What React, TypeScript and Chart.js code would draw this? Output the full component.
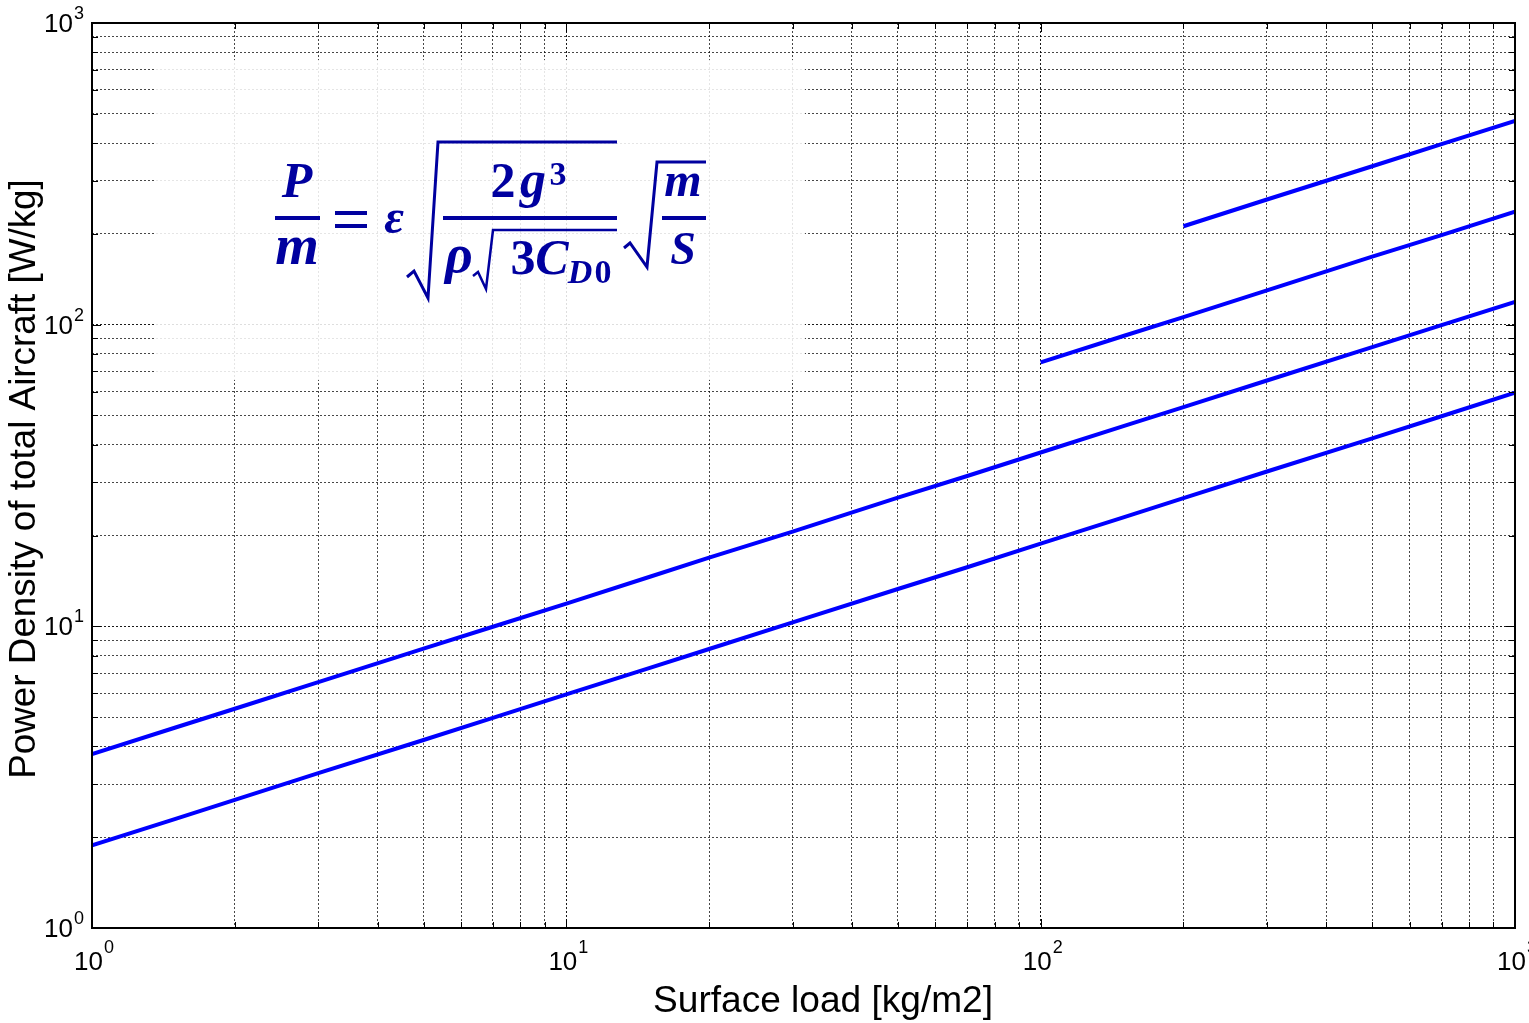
import React, { useEffect, useRef } from 'react';
import { Chart, registerables } from 'chart.js';

Chart.register(...registerables);

// ---- data ----
const X_FULL = [1, 1.5, 2, 3, 5, 7, 10, 15, 20, 30, 50, 70, 100, 150, 200, 300, 500, 700, 1000];
const LOW_Y = [1.88, 2.3, 2.66, 3.26, 4.2, 4.97, 5.95, 7.28, 8.41, 10.3, 13.3, 15.7, 18.8, 23.0, 26.6, 32.6, 42.0, 49.7, 59.5];
const MID_Y = [3.77, 4.62, 5.33, 6.53, 8.43, 9.97, 11.9, 14.6, 16.9, 20.6, 26.7, 31.5, 37.7, 46.2, 53.3, 65.3, 84.3, 99.7, 119];
const X_FROM_100 = [100, 150, 200, 300, 500, 700, 1000];
const UPPER_Y = [75, 91.9, 106, 130, 168, 198, 237];
const X_FROM_200 = [200, 300, 500, 700, 1000];
const TOP_Y = [212, 260, 335, 397, 474];

const DECADES = [1, 10, 100, 1000];
const DECADE_EXPONENTS = ['0', '1', '2', '3'];
const X_TITLE = 'Surface load [kg/m2]';
const Y_TITLE = 'Power Density of total Aircraft [W/kg]';

const TICK_VALUES: number[] = [];
for (let i = 0; i < DECADES.length - 1; i++) {
  for (let m = 1; m <= 9; m++) TICK_VALUES.push(m * DECADES[i]);
}
TICK_VALUES.push(DECADES[DECADES.length - 1]);

const toPoints = (xs: number[], ys: number[]) => xs.map((x, i) => ({ x, y: ys[i] }));

const LINE_COLOR = '#0000ff';
const EQ_COLOR = '#00009f';
const SANS = '"Liberation Sans", Arial, sans-serif';
const SERIF = '"Liberation Serif", "Times New Roman", serif';

function txt(ctx: CanvasRenderingContext2D, t: string, x: number, y: number, font: string, align: CanvasTextAlign = 'center') {
  ctx.font = font;
  ctx.textAlign = align;
  ctx.textBaseline = 'alphabetic';
  ctx.fillText(t, x, y);
}

function fitFont(ctx: CanvasRenderingContext2D, t: string, width: number) {
  ctx.font = `100px ${SANS}`;
  const w = ctx.measureText(t).width;
  return `${(100 * width) / w}px ${SANS}`;
}

function poly(ctx: CanvasRenderingContext2D, pts: number[][], w: number) {
  ctx.lineWidth = w;
  ctx.beginPath();
  pts.forEach((p, i) => (i === 0 ? ctx.moveTo(p[0], p[1]) : ctx.lineTo(p[0], p[1])));
  ctx.stroke();
}

function drawEquation(ctx: CanvasRenderingContext2D) {
  ctx.save();
  ctx.fillStyle = EQ_COLOR;
  ctx.strokeStyle = EQ_COLOR;
  ctx.lineJoin = 'miter';
  ctx.lineCap = 'butt';
  const L = (s: number) => `italic bold ${s}px ${SERIF}`;
  const D = (s: number) => `bold ${s}px ${SERIF}`;
  // P / m
  txt(ctx, 'P', 297, 197, L(50));
  ctx.fillRect(275, 216, 45, 4);
  txt(ctx, 'm', 297, 264, L(56));
  // =
  ctx.fillRect(335, 211, 32, 4);
  ctx.fillRect(335, 224, 32, 4);
  // epsilon
  txt(ctx, 'ε', 394, 233, L(48));
  // big radical
  poly(ctx, [[407, 277], [414, 271], [428, 298], [438, 142], [617, 142]], 3);
  // 2g^3
  txt(ctx, '2', 503, 197, D(50));
  txt(ctx, 'g', 533, 197, L(52));
  txt(ctx, '3', 558, 185, D(34));
  ctx.fillRect(443, 216, 174, 4);
  // rho sqrt(3 C_D0)
  txt(ctx, 'ρ', 459, 272, L(54));
  poly(ctx, [[473, 276], [478, 272], [486, 289], [493, 230], [617, 230]], 2.5);
  txt(ctx, '3', 523, 274, D(50));
  txt(ctx, 'C', 552, 274, L(50));
  txt(ctx, 'D', 580, 283, L(34));
  txt(ctx, '0', 603, 283, D(34));
  // sqrt(m/S)
  poly(ctx, [[624, 248], [630, 243], [647, 267], [657, 162], [706, 162]], 3);
  txt(ctx, 'm', 683, 196, L(48));
  ctx.fillRect(662, 216, 44, 4);
  txt(ctx, 'S', 683, 264, L(46));
  ctx.restore();
}

const overlayPlugin = {
  id: 'overlay',
  beforeDatasetsDraw(chart: any) {
    const { ctx } = chart;
    ctx.save();
    ctx.fillStyle = 'rgba(255,255,255,0.86)';
    ctx.fillRect(154, 60, 651, 320);
    ctx.restore();
  },
  afterDraw(chart: any) {
    const { ctx, chartArea: a, scales } = chart;
    const xs = scales.x;
    const ys = scales.y;
    ctx.save();
    // tick marks (inside)
    ctx.strokeStyle = '#000';
    ctx.lineWidth = 1;
    TICK_VALUES.forEach((v) => {
      const len = DECADES.includes(v) ? 9 : 6;
      const px = Math.round(xs.getPixelForValue(v)) + 0.5;
      const py = Math.round(ys.getPixelForValue(v)) + 0.5;
      ctx.beginPath();
      ctx.moveTo(px, a.bottom);
      ctx.lineTo(px, a.bottom - len);
      ctx.moveTo(px, a.top);
      ctx.lineTo(px, a.top + len);
      ctx.moveTo(a.left, py);
      ctx.lineTo(a.left + len, py);
      ctx.moveTo(a.right, py);
      ctx.lineTo(a.right - len, py);
      ctx.stroke();
    });
    // frame
    ctx.lineWidth = 2;
    ctx.strokeRect(a.left, a.top, a.right - a.left, a.bottom - a.top);

    // tick labels
    ctx.fillStyle = '#000';
    DECADES.forEach((d, i) => {
      const e = DECADE_EXPONENTS[i];
      const py = ys.getPixelForValue(d);
      txt(ctx, '10', a.left - 19, py + 9, `26px ${SANS}`, 'right');
      txt(ctx, e, a.left - 18, py - 4, `18px ${SANS}`, 'left');
      const px = xs.getPixelForValue(d);
      txt(ctx, '10', px + 11, 970, `26px ${SANS}`, 'right');
      txt(ctx, e, px + 12, 953, `18px ${SANS}`, 'left');
    });

    // axis titles
    txt(ctx, X_TITLE, 823, 1012, fitFont(ctx, X_TITLE, 340), 'center');
    ctx.translate(35, 479);
    ctx.rotate(-Math.PI / 2);
    txt(ctx, Y_TITLE, 0, 0, fitFont(ctx, Y_TITLE, 600), 'center');
    ctx.restore();

    drawEquation(ctx);
  },
};

const gridColor = (c: any) =>
  c.tick && DECADES.includes(c.tick.value) ? 'rgba(0,0,0,0.9)' : 'rgba(0,0,0,0.72)';

export default function App() {
  const ref = useRef<HTMLCanvasElement | null>(null);
  useEffect(() => {
    if (!ref.current) return;
    const axis = (min: number, max: number) => ({
      type: 'logarithmic' as const,
      min,
      max,
      afterBuildTicks: (scale: any) => {
        scale.ticks = TICK_VALUES.map((v) => ({ value: v, major: DECADES.includes(v) }));
      },
      ticks: { display: false, autoSkip: false },
      grid: { color: gridColor, lineWidth: 1, drawTicks: false },
      border: { display: false, dash: [2, 2] },
      title: { display: false },
    });
    const ds = (data: { x: number; y: number }[]) => ({
      data,
      showLine: true,
      borderColor: LINE_COLOR,
      backgroundColor: LINE_COLOR,
      borderWidth: 4,
      pointRadius: 0,
      tension: 0,
      fill: false,
    });
    const chart = new Chart(ref.current, {
      type: 'scatter',
      data: {
        datasets: [
          ds(toPoints(X_FULL, LOW_Y)),
          ds(toPoints(X_FULL, MID_Y)),
          ds(toPoints(X_FROM_100, UPPER_Y)),
          ds(toPoints(X_FROM_200, TOP_Y)),
        ],
      },
      options: {
        animation: false,
        responsive: false,
        devicePixelRatio: 1,
        layout: { padding: { left: 92, top: 23, right: 14, bottom: 95 } },
        plugins: { legend: { display: false }, tooltip: { enabled: false } },
        scales: { x: axis(1, 1000), y: axis(1, 1000) },
      },
      plugins: [overlayPlugin],
    });
    return () => chart.destroy();
  }, []);
  return (
    <div style={{ position: 'fixed', left: 0, top: 0, width: 1529, height: 1023, background: '#fff' }}>
      <canvas ref={ref} width={1529} height={1023} />
    </div>
  );
}
